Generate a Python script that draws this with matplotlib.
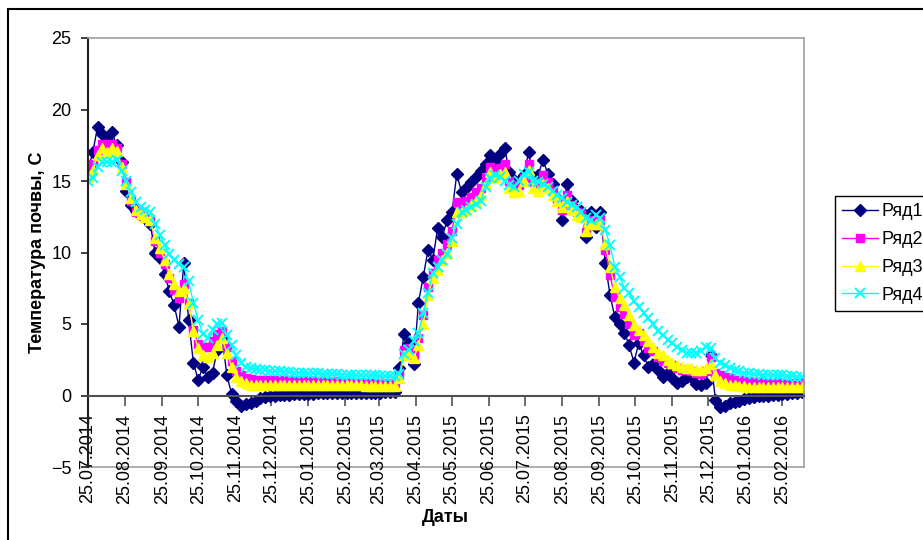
import matplotlib
matplotlib.use("Agg")
import matplotlib.pyplot as plt
import matplotlib.dates as mdates
import pandas as pd
from matplotlib.patches import Rectangle

# значения через каждые 4 дня, начиная с 25.07.2014
ryad1 = [15.8, 17.0, 18.8, 18.3, 17.9, 18.4, 17.5, 16.3, 14.3, 13.3,
         12.9, 12.6, 12.4, 12.0, 10.0, 9.6, 8.5, 7.3, 6.3, 4.8,
         9.3, 5.3, 2.3, 1.1, 2.0, 1.3, 1.6, 3.2, 4.1, 1.4,
         0.1, -0.4, -0.7, -0.6, -0.5, -0.35, -0.2, -0.1, 0.0, 0.0,
         0.05, 0.05, 0.05, 0.1, 0.1, 0.1, 0.1, 0.1, 0.15, 0.15,
         0.15, 0.15, 0.2, 0.2, 0.2, 0.2, 0.2, 0.2, 0.2, 0.2,
         0.2, 0.2, 0.25, 0.25, 0.25, 1.9, 4.3, 3.7, 2.2, 6.5,
         8.3, 10.2, 9.5, 11.7, 11.1, 12.3, 12.8, 15.5, 14.2, 14.5,
         14.9, 15.3, 15.7, 16.2, 16.8, 16.4, 16.9, 17.3, 15.6, 15.1,
         15.0, 15.4, 17.0, 15.3, 15.4, 16.5, 15.5, 14.8, 13.8, 12.3,
         14.8, 13.6, 13.0, 12.9, 11.1, 12.8, 11.8, 12.8, 9.3, 7.0,
         5.5, 5.0, 4.4, 3.5, 2.3, 3.7, 2.8, 2.0, 2.2, 1.8,
         1.3, 1.6, 1.2, 0.9, 1.0, 1.3, 1.3, 0.8, 0.7, 0.9,
         2.8, -0.3, -0.8, -0.7, -0.55, -0.45, -0.35, -0.25, -0.2, -0.1,
         -0.05, 0.0, 0.0, 0.05, 0.05, 0.1, 0.1, 0.15, 0.2, 0.25]

ryad2 = [15.5, 16.2, 17.2, 17.6, 17.3, 17.6, 17.3, 16.2, 14.9, 13.6,
         12.8, 12.6, 12.4, 12.2, 10.8, 10.0, 9.2, 8.2, 7.4, 6.8,
         7.8, 6.5, 4.6, 3.6, 3.4, 3.4, 3.8, 4.3, 4.5, 3.4,
         2.4, 1.7, 1.4, 1.2, 1.15, 1.1, 1.1, 1.1, 1.1, 1.1,
         1.05, 1.05, 1.05, 1.05, 1.05, 1.05, 1.05, 1.0, 1.0, 1.0,
         1.0, 1.0, 1.0, 0.95, 0.95, 0.95, 0.95, 0.95, 0.9, 0.9,
         0.9, 0.9, 0.9, 0.9, 0.9, 1.4, 3.2, 3.3, 2.8, 4.0,
         5.6, 7.6, 8.6, 9.5, 10.0, 10.6, 11.5, 13.5, 13.4, 13.6,
         13.9, 14.2, 14.5, 15.3, 16.0, 15.7, 15.9, 16.2, 15.0, 14.7,
         14.7, 15.2, 16.2, 14.9, 14.7, 15.4, 14.9, 14.3, 13.7, 13.0,
         14.0, 13.3, 12.8, 12.7, 11.4, 12.3, 11.9, 12.3, 10.2, 8.4,
         6.9, 6.2, 5.7, 5.0, 4.2, 4.4, 3.8, 3.3, 3.1, 2.7,
         2.4, 2.3, 2.1, 1.9, 1.8, 1.8, 1.7, 1.6, 1.5, 1.7,
         2.7, 1.6, 1.4, 1.3, 1.2, 1.1, 1.05, 1.0, 1.0, 0.95,
         0.95, 0.95, 0.9, 0.9, 0.9, 0.9, 0.9, 0.9, 0.9, 0.9]

ryad3 = [15.3, 15.8, 16.8, 17.3, 17.0, 17.3, 17.1, 16.0, 14.8, 13.8,
         13.0, 12.7, 12.5, 12.3, 11.0, 10.3, 9.5, 8.5, 7.8, 7.3,
         7.5, 6.5, 4.5, 3.3, 2.8, 2.7, 3.0, 3.5, 4.0, 3.0,
         2.0, 1.3, 1.0, 0.85, 0.75, 0.7, 0.7, 0.7, 0.7, 0.7,
         0.7, 0.7, 0.7, 0.7, 0.7, 0.7, 0.7, 0.7, 0.7, 0.7,
         0.7, 0.7, 0.7, 0.7, 0.7, 0.7, 0.7, 0.7, 0.65, 0.65,
         0.65, 0.65, 0.65, 0.65, 0.65, 1.2, 2.8, 3.0, 2.6, 3.5,
         5.0, 7.0, 8.2, 8.8, 9.5, 10.0, 10.8, 12.8, 12.8, 13.0,
         13.3, 13.6, 14.0, 14.8, 15.6, 15.3, 15.5, 15.6, 14.5, 14.2,
         14.3, 15.0, 15.8, 14.5, 14.3, 14.8, 14.5, 14.0, 13.6, 13.2,
         13.6, 13.0, 12.6, 12.5, 11.5, 12.0, 12.0, 12.0, 10.6, 9.0,
         7.6, 6.8, 6.3, 5.6, 4.9, 4.6, 4.2, 3.8, 3.4, 3.0,
         2.8, 2.5, 2.3, 2.1, 2.0, 1.9, 1.9, 1.8, 1.8, 1.9,
         2.2, 1.4, 1.0, 0.85, 0.75, 0.7, 0.65, 0.65, 0.6, 0.6,
         0.6, 0.6, 0.6, 0.6, 0.6, 0.6, 0.6, 0.6, 0.6, 0.6]

ryad4 = [15.0, 15.2, 16.0, 16.3, 16.3, 16.3, 16.5, 15.7, 15.0, 14.2,
         13.5, 13.2, 13.0, 12.8, 12.0, 11.2, 10.5, 9.9, 9.5, 9.2,
         9.0, 8.0, 6.5, 5.3, 4.3, 4.0, 4.6, 5.0, 5.1, 4.2,
         3.5, 2.8, 2.3, 2.0, 1.9, 1.85, 1.8, 1.75, 1.7, 1.7,
         1.7, 1.65, 1.65, 1.6, 1.6, 1.6, 1.6, 1.55, 1.55, 1.5,
         1.5, 1.5, 1.5, 1.45, 1.45, 1.45, 1.4, 1.4, 1.4, 1.4,
         1.4, 1.35, 1.35, 1.35, 1.35, 1.5, 2.9, 3.2, 3.8, 4.4,
         5.8, 7.2, 8.6, 9.0, 9.5, 9.9, 11.0, 12.0, 12.8, 13.0,
         13.2, 13.4, 13.6, 14.6, 15.2, 15.4, 15.3, 15.0, 14.7, 14.6,
         15.0, 15.5, 15.6, 15.0, 14.9, 14.8, 14.6, 14.3, 14.0, 13.8,
         13.5, 13.3, 13.2, 12.8, 12.4, 12.3, 12.6, 12.4, 11.6, 10.5,
         9.0, 8.3, 7.5, 7.2, 6.6, 6.2, 5.8, 5.4, 5.0, 4.5,
         4.2, 3.9, 3.7, 3.4, 3.2, 3.0, 3.0, 3.0, 3.1, 3.4,
         3.3, 2.6, 2.3, 2.1, 1.9, 1.8, 1.7, 1.6, 1.55, 1.5,
         1.5, 1.45, 1.45, 1.4, 1.4, 1.4, 1.35, 1.35, 1.3, 1.3]

names = ["Ряд1", "Ряд2", "Ряд3", "Ряд4"]
dates = pd.date_range("2014-07-25", periods=len(ryad1), freq="4D")

plt.rcParams["font.family"] = ["Liberation Sans", "DejaVu Sans"]

fig = plt.figure(figsize=(9.23, 5.4), dpi=100)
ax = fig.add_axes([88 / 923, 1 - 467 / 540, 716 / 923, 429 / 540])

styles = [
    ("#000080", "D", 6.5, 1.0),
    ("#ff00ff", "s", 5.5, 1.0),
    ("#ffff00", "^", 7.0, 1.0),
    ("#00ffff", "x", 6.5, 1.4),
]
for vals, name, (col, mk, ms, mew) in zip([ryad1, ryad2, ryad3, ryad4], names, styles):
    ax.plot(dates, vals, color=col, marker=mk, markersize=ms, markeredgewidth=mew,
            markeredgecolor=col, markerfacecolor=col, linewidth=1, label=name)

ax.set_ylim(-5, 25)
ax.set_yticks(range(-5, 30, 5))
ax.set_xlim(pd.Timestamp("2014-07-25"), pd.Timestamp("2016-03-14"))

ax.xaxis.set_major_locator(mdates.MonthLocator(bymonthday=25))
ax.xaxis.set_major_formatter(mdates.DateFormatter("%d.%m.%Y"))

# ось X проходит через 0, рамка области построения серая
ax.spines["bottom"].set_position(("data", 0))
ax.spines["bottom"].set_color("#505050")
ax.spines["bottom"].set_linewidth(1.5)
ax.spines["left"].set_color("#202020")
ax.spines["left"].set_linewidth(1.5)
for s in ["top", "right"]:
    ax.spines[s].set_color("#a0a0a0")
    ax.spines[s].set_linewidth(1.2)
ax.axhline(-5, color="#a0a0a0", linewidth=1.2, clip_on=False, zorder=0)

ax.tick_params(axis="x", direction="out", length=7, width=1.2, color="#505050",
               pad=6, labelrotation=90, labelsize=13)
ax.tick_params(axis="y", direction="out", length=5, width=1.2, color="#202020",
               pad=7, labelsize=13)

fig.text(38 / 923, 1 - 252 / 540, "Температура почвы, С", rotation=90, fontsize=13,
         fontweight="bold", ha="center", va="center")
fig.text(445 / 923, 1 - 518 / 540, "Даты", fontsize=13, fontweight="bold",
         ha="center", va="center")

ax.legend(loc="upper left", bbox_to_anchor=(835 / 923, 1 - 196 / 540),
          bbox_transform=fig.transFigure, fancybox=False, edgecolor="black",
          fontsize=13, handlelength=2.0, handletextpad=0.15, labelspacing=0.6,
          borderpad=0.4, borderaxespad=0, framealpha=1)

fig.add_artist(Rectangle((8 / 923, -0.1), 1.5, 1.1 - 9 / 540, transform=fig.transFigure,
                         fill=False, edgecolor="black", linewidth=1.5))

fig.savefig("out.png", dpi=100)
